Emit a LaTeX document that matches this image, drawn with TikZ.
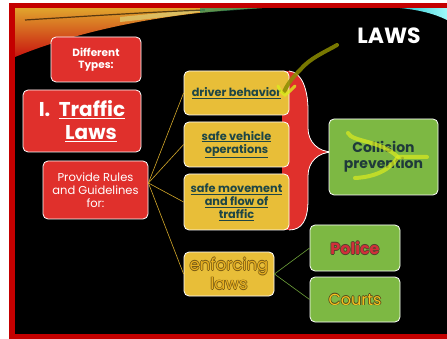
\documentclass[tikz,border=0pt]{standalone}
\usepackage{fontspec}
\setmainfont{Poppins}
\usetikzlibrary{calc}
\definecolor{frame}{RGB}{196,0,0}
\definecolor{boxred}{RGB}{224,48,44}
\definecolor{boxyel}{RGB}{232,190,56}
\definecolor{boxgrn}{RGB}{125,184,67}
\definecolor{tealtxt}{RGB}{30,70,70}
\definecolor{colltxt}{RGB}{31,58,58}
\definecolor{goldline}{RGB}{212,168,42}
\definecolor{grnline}{RGB}{111,162,58}
\definecolor{olivehl}{RGB}{140,140,0}
\definecolor{yelhl}{RGB}{220,235,30}
\definecolor{enftxt}{RGB}{232,176,32}
\definecolor{enfout}{RGB}{120,90,20}
\definecolor{poltxt}{RGB}{208,48,58}
\definecolor{polout}{RGB}{80,70,45}
\definecolor{crttxt}{RGB}{245,195,30}
\definecolor{crtout}{RGB}{80,65,25}
\definecolor{swtop}{RGB}{225,165,45}
\definecolor{swmid}{RGB}{232,105,20}
\definecolor{swbot}{RGB}{200,20,15}
\definecolor{swlight}{RGB}{220,200,110}
\definecolor{swgreen}{RGB}{40,140,90}
\definecolor{cyanA}{RGB}{40,200,210}
\definecolor{cyanB}{RGB}{160,250,250}
\newcommand\olt[3]{\leavevmode\rlap{\color{#2}\hspace{-0.7pt}#3}\rlap{\color{#2}\hspace{0.7pt}#3}\rlap{\color{#2}\raisebox{0.7pt}{#3}}\rlap{\color{#2}\raisebox{-0.7pt}{#3}}{\color{#1}#3}}
\tikzset{
  basebox/.style={draw=white, line width=0.8pt, rounded corners=5pt, align=center, inner sep=2pt},
  redbox/.style={basebox, fill=boxred, text=white},
  yelbox/.style={basebox, fill=boxyel, text=tealtxt, font=\bfseries\fontsize{11.3}{13}\selectfont},
  grnbox/.style={basebox, fill=boxgrn},
  goldconn/.style={draw=goldline, line width=0.6pt},
  grnconn/.style={draw=grnline, line width=0.6pt},
}
\begin{document}
\begin{tikzpicture}[x=1pt,y=-1pt]
\useasboundingbox (0,0) rectangle (447,339);
% background and frame
\fill[white] (0,0) rectangle (447,339);
\fill[black] (15,8) rectangle (447,334);
% top-left swoosh
\shade[top color=swtop, middle color=swmid, bottom color=swbot]
  (15,8) -- (262,8) .. controls (170,12) and (80,30) .. (15,57) -- cycle;
\fill[swlight, opacity=0.8] (120,17) .. controls (160,13) and (190,10) .. (215,9) .. controls (190,14) and (160,18) .. (120,22) -- cycle;
\draw[black, opacity=0.6, line width=1.2pt] (25,20) .. controls (90,16) and (150,12) .. (205,10);
\fill[swgreen, opacity=0.7] (200,8) -- (262,8) .. controls (240,10) and (220,11) .. (200,13) -- cycle;
% top-right cyan swoosh
\shade[left color=cyanA, right color=cyanB]
  (400,8) -- (447,8) -- (447,20) .. controls (435,14) and (420,10) .. (400,8) -- cycle;
% red frame
\fill[frame] (9,3) rectangle (447,8);
\fill[frame] (9,3) rectangle (15,339);
\fill[frame] (9,334) rectangle (447,339);
% title
\node[text=white, font=\bfseries\fontsize{22}{25}\selectfont] (title) at (389,36) {LAWS};
% red brace
\fill[boxred] (282,71) -- (289,71) .. controls (302,72) and (308,90) .. (308,110) -- (308,128)
  .. controls (308,142) and (318,152) .. (333,152) .. controls (318,152) and (308,162) .. (308,176)
  -- (308,200) .. controls (308,220) and (302,230) .. (289,230) -- (282,230) -- cycle;
\draw[white, line width=0.8pt] (289,71) .. controls (302,72) and (308,90) .. (308,110) -- (308,128)
  .. controls (308,142) and (318,152) .. (333,152) .. controls (318,152) and (308,162) .. (308,176)
  -- (308,200) .. controls (308,220) and (302,230) .. (289,230);
% left boxes
\node[redbox, minimum width=90pt, minimum height=45pt, font=\bfseries\fontsize{10.5}{12.5}\selectfont] (diff) at (96,59.5) {Different\\Types:};
\node[redbox, minimum width=118pt, minimum height=62pt, font=\bfseries\fontsize{20}{23}\selectfont] (traffic) at (82,121) {I.\ \ \underline{Traffic}\\\hspace*{18pt}\underline{Laws}};
\node[redbox, minimum width=105pt, minimum height=58pt, font=\fontsize{11.5}{13}\selectfont] (provide) at (95.5,190) {Provide Rules\\and Guidelines\\for:};
% yellow boxes
\node[yelbox, minimum width=105pt, minimum height=44pt] (drv) at (236.5,93) {\underline{driver behavior}};
\node[yelbox, minimum width=105pt, minimum height=45pt] (svo) at (236.5,144.5) {\underline{safe vehicle}\\\underline{operations}};
\node[yelbox, minimum width=105pt, minimum height=56pt] (smf) at (236.5,202) {\underline{safe movement}\\\underline{and flow of}\\\underline{traffic}};
\node[yelbox, minimum width=90pt, minimum height=44pt, font=\fontsize{16.5}{18}\selectfont] (enf) at (229,274) {\olt{enftxt}{enfout}{enforcing}\\\olt{enftxt}{enfout}{laws}};
% green boxes
\node[grnbox, minimum width=109pt, minimum height=76pt, text=colltxt, font=\bfseries\fontsize{14}{16}\selectfont] (coll) at (383.5,157) {Collision\\prevention};
\node[grnbox, minimum width=90pt, minimum height=46pt, font=\bfseries\fontsize{16}{18}\selectfont] (police) at (355,248) {\olt{poltxt}{polout}{Police}};
\node[grnbox, minimum width=90pt, minimum height=45pt, font=\fontsize{16}{18}\selectfont] (courts) at (355,299.5) {\olt{crttxt}{crtout}{Courts}};
% connectors
\coordinate (hub) at ([yshift=7pt]provide.east);
\draw[goldconn] (hub) -- (drv.west);
\draw[goldconn] (hub) -- (svo.west);
\draw[goldconn] (hub) -- (smf.west);
\draw[goldconn] (hub) -- (enf.west);
\draw[grnconn] (enf.east) -- (police.west);
\draw[grnconn] (enf.east) -- (courts.west);
% highlighter marks
\draw[olivehl, line width=4pt, opacity=0.85, line cap=round] (337,45) .. controls (325,52) and (310,58) .. (300,70) .. controls (292,78) and (287,85) .. (284,92);
\draw[yelhl, line width=3pt, opacity=0.8, line cap=round] (278,86) .. controls (281,92) .. (285,95) .. controls (289,92) .. (295,86);
\draw[yelhl, line width=4pt, opacity=0.7, line cap=round] (348,133) .. controls (352,142) and (380,140) .. (398,157) -- (427,157);
\draw[yelhl, line width=4pt, opacity=0.7, line cap=round] (355,178) .. controls (375,177) and (390,170) .. (398,157);
\end{tikzpicture}
\end{document}
